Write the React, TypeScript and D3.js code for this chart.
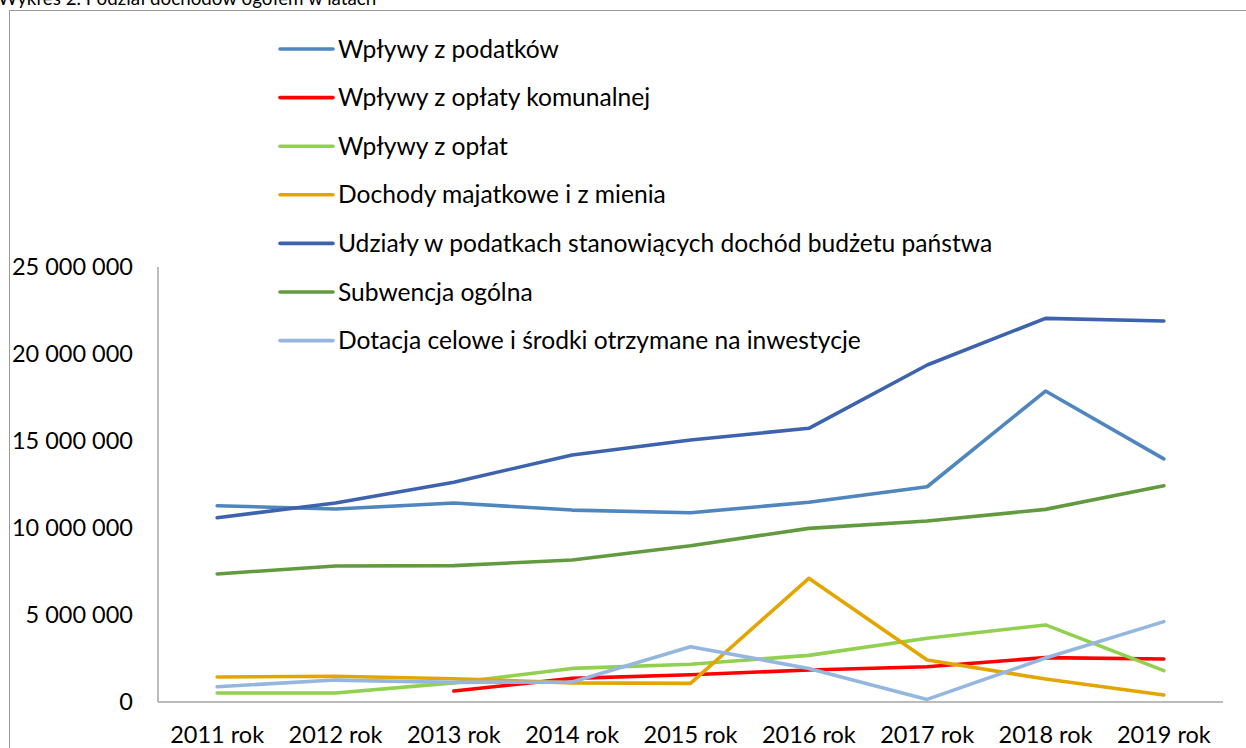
import React from "react";
import * as d3 from "d3";

const years = ["2011 rok", "2012 rok", "2013 rok", "2014 rok", "2015 rok", "2016 rok", "2017 rok", "2018 rok", "2019 rok"];

const wplywyPodatki = [11280000, 11090000, 11440000, 11030000, 10880000, 11480000, 12370000, 17870000, 13970000];
const wplywyKomunalna = [null, null, 630000, 1360000, 1570000, 1840000, 2030000, 2550000, 2470000];
const wplywyOplat = [520000, 520000, 1100000, 1930000, 2170000, 2680000, 3660000, 4430000, 1800000];
const dochodyMajatkowe = [1440000, 1480000, 1340000, 1100000, 1070000, 7110000, 2410000, 1320000, 400000];
const udzialy = [10590000, 11440000, 12630000, 14200000, 15060000, 15730000, 19370000, 22050000, 21900000];
const subwencja = [7360000, 7820000, 7840000, 8160000, 8980000, 9980000, 10400000, 11070000, 12430000];
const dotacje = [880000, 1260000, 1130000, 1150000, 3180000, 1930000, 150000, 2530000, 4620000];

const yTicks = [0, 5000000, 10000000, 15000000, 20000000, 25000000];

const seriesNames = [
  "Wpływy z podatków",
  "Wpływy z opłaty komunalnej",
  "Wpływy z opłat",
  "Dochody majatkowe i z mienia",
  "Udziały w podatkach stanowiących dochód budżetu państwa",
  "Subwencja ogólna",
  "Dotacja celowe i środki otrzymane na inwestycje",
];
const seriesValues = [wplywyPodatki, wplywyKomunalna, wplywyOplat, dochodyMajatkowe, udzialy, subwencja, dotacje];
const seriesColors = ["#4F86BE", "#FF0000", "#92D050", "#E3A600", "#3E63AE", "#629B3F", "#95B6DE"];

const FONT = "Lato, 'Open Sans', sans-serif";

export default function App() {
  const W = 1246, H = 748;
  const left = 158, right = 1223, top = 267, bottom = 702;
  const x = d3.scaleBand<string>().domain(years).range([left, right]);
  const y = d3.scaleLinear().domain([0, 25000000]).range([bottom, top]);
  const fmt = (v: number) => d3.format(",")(v).replace(/,/g, " ");
  const line = d3
    .line<number | null>()
    .defined((d) => d !== null)
    .x((_, i) => (x(years[i]) as number) + x.bandwidth() / 2)
    .y((d) => y(d as number));

  return (
    <svg width={W} height={H} style={{ position: "absolute", left: 0, top: 0, background: "#fff" }}>
      <text x={-2} y={5} fontFamily={FONT} fontSize={18.8} fill="#000">
        Wykres 2. Podział dochodów ogółem w latach
      </text>
      <rect x={9.5} y={10.5} width={1260} height={760} fill="none" stroke="#9a9a9a" strokeWidth={1} />
      {yTicks.map((t) => (
        <text key={t} x={133} y={y(t)} dy="0.35em" textAnchor="end" fontFamily={FONT} fontSize={23.5} fill="#000">
          {fmt(t)}
        </text>
      ))}
      {years.map((yr) => (
        <text key={yr} x={(x(yr) as number) + x.bandwidth() / 2} y={743} textAnchor="middle" fontFamily={FONT} fontSize={23.5} fill="#000">
          {yr}
        </text>
      ))}
      <line x1={left} x2={left} y1={top} y2={bottom} stroke="#A6A6A6" strokeWidth={1.5} />
      <line x1={left} x2={right} y1={bottom} y2={bottom} stroke="#A6A6A6" strokeWidth={1.5} />
      {seriesValues.map((vals, i) => (
        <path key={i} d={line(vals) || ""} fill="none" stroke={seriesColors[i]} strokeWidth={3.6} strokeLinejoin="round" strokeLinecap="round" />
      ))}
      {seriesNames.map((name, i) => {
        const ly = 49 + i * 48.6;
        return (
          <g key={name}>
            <line x1={280} x2={333} y1={ly} y2={ly} stroke={seriesColors[i]} strokeWidth={3.6} strokeLinecap="round" />
            <text x={338} y={ly} dy="0.35em" fontFamily={FONT} fontSize={24.6} fill="#000">
              {name}
            </text>
          </g>
        );
      })}
    </svg>
  );
}
